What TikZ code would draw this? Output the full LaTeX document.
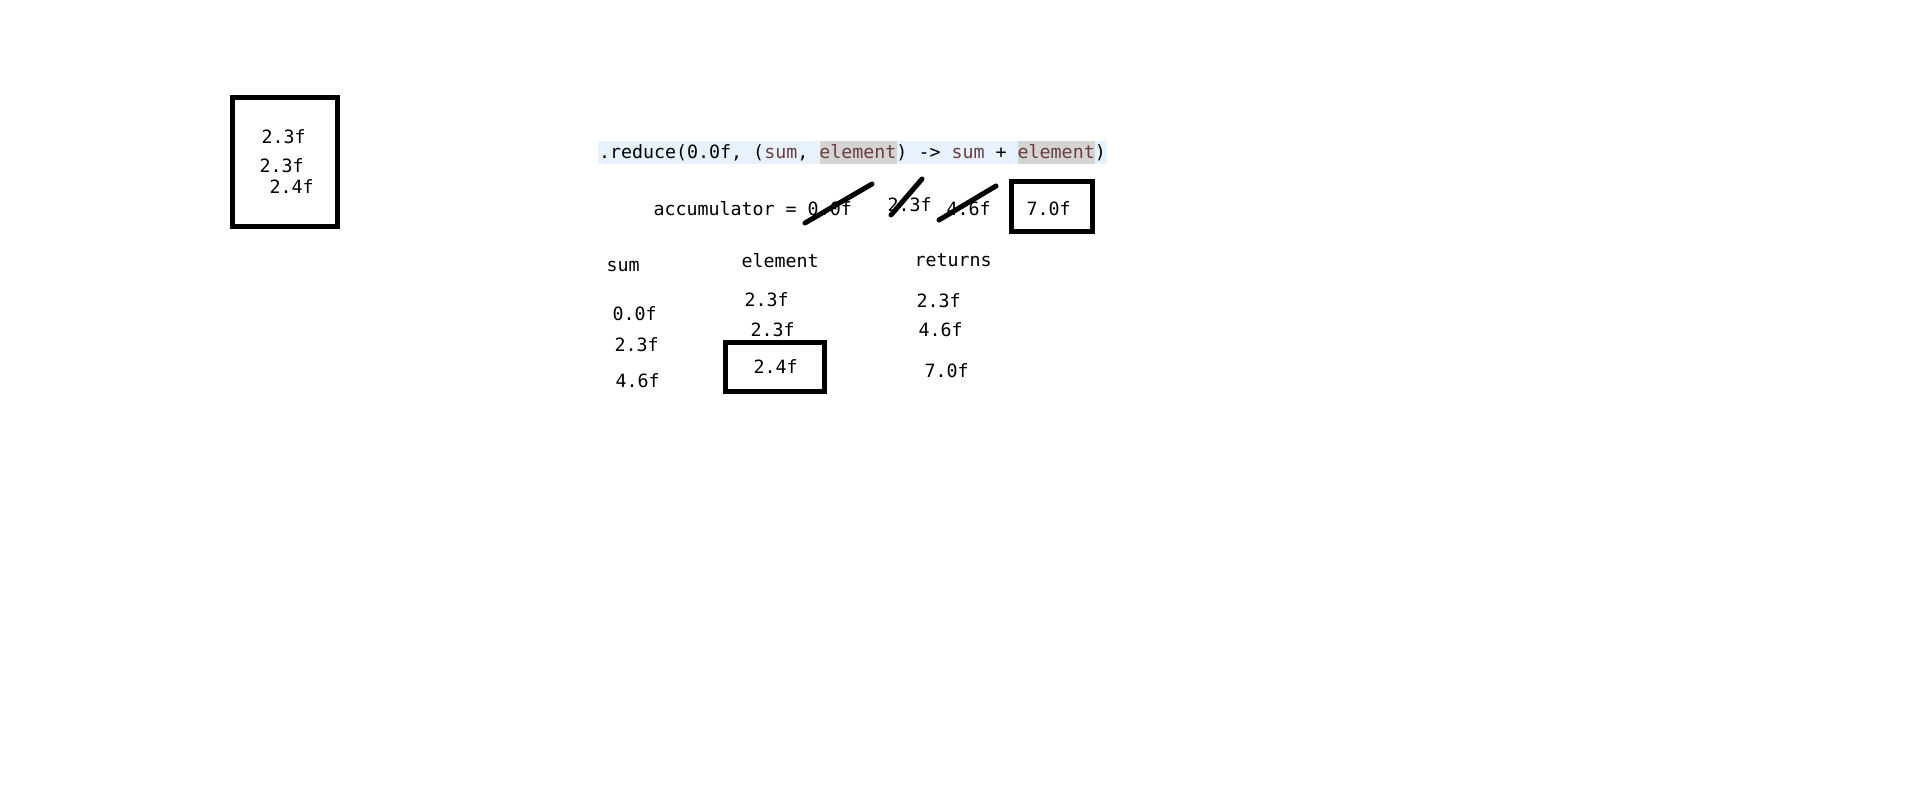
\documentclass[tikz,border=0pt]{standalone}
\usepackage{fontspec}
\newfontfamily\codefont{DejaVu Sans Mono}
\definecolor{varcol}{HTML}{6A3E3E}
\definecolor{linebg}{HTML}{E8F2FE}
\definecolor{hlgrey}{HTML}{D4D4D4}
\tikzset{
  txt/.style={anchor=base west, inner sep=0pt, outer sep=0pt, text=black,
    font=\codefont\fontsize{18.3}{21}\selectfont},
  boxline/.style={draw=black, line width=5pt},
  strike/.style={draw=black, line width=5pt, line cap=round},
}
\newcommand{\vv}[1]{\textcolor{varcol}{#1}}
\begin{document}
\begin{tikzpicture}[x=1pt, y=-1pt]
\useasboundingbox[fill=white] (0,0) rectangle (1911,792);
% left box
\draw[boxline] (232.5,97.5) rectangle (337.5,226.5);
\node[txt] (l1) at (261.5,143) {2.3f};
\node[txt] (l2) at (259.5,172) {2.3f};
\node[txt] (l3) at (269.5,193) {2.4f};
% code line
\fill[linebg] (598,140.5) rectangle (1107,164);
\fill[hlgrey] (819.6,140.5) rectangle (896.8,164);
\fill[hlgrey] (1018.2,140.5) rectangle (1095.4,164);
\node[txt] (code) at (599,158.7) {.reduce(0.0f, (\vv{sum}, \vv{element}) -> \vv{sum} + \vv{element})};
% accumulator line
\node[txt] (acc) at (653.5,215) {accumulator = 0.0f};
\node[txt] (a2) at (887.5,211) {2.3f};
\node[txt] (a3) at (946.5,215) {4.6f};
\node[txt] (a4) at (1026.5,215) {7.0f};
\draw[boxline] (1011.5,181.5) rectangle (1092.5,231.5);
\coordinate (s1a) at (805,223); \coordinate (s1b) at (872,184);
\coordinate (s2a) at (891,215); \coordinate (s2b) at (922,179);
\coordinate (s3a) at (939,220); \coordinate (s3b) at (996,186);
\draw[strike] (s1a) -- (s1b);
\draw[strike] (s2a) -- (s2b);
\draw[strike] (s3a) -- (s3b);
% table
\node[txt] (hsum) at (606.5,271) {sum};
\node[txt] (hel) at (741.5,267) {element};
\node[txt] (hret) at (914.5,266) {returns};
\node[txt] (s1) at (612.5,320) {0.0f};
\node[txt] (s2) at (614.5,351) {2.3f};
\node[txt] (s3) at (615.5,387) {4.6f};
\node[txt] (e1) at (744.5,306) {2.3f};
\node[txt] (e2) at (750.5,336) {2.3f};
\node[txt] (e3) at (753.5,373) {2.4f};
\draw[boxline] (725.5,342.5) rectangle (824.5,391.5);
\node[txt] (r1) at (916.5,307) {2.3f};
\node[txt] (r2) at (918.5,336) {4.6f};
\node[txt] (r3) at (924.5,377) {7.0f};
\end{tikzpicture}
\end{document}
